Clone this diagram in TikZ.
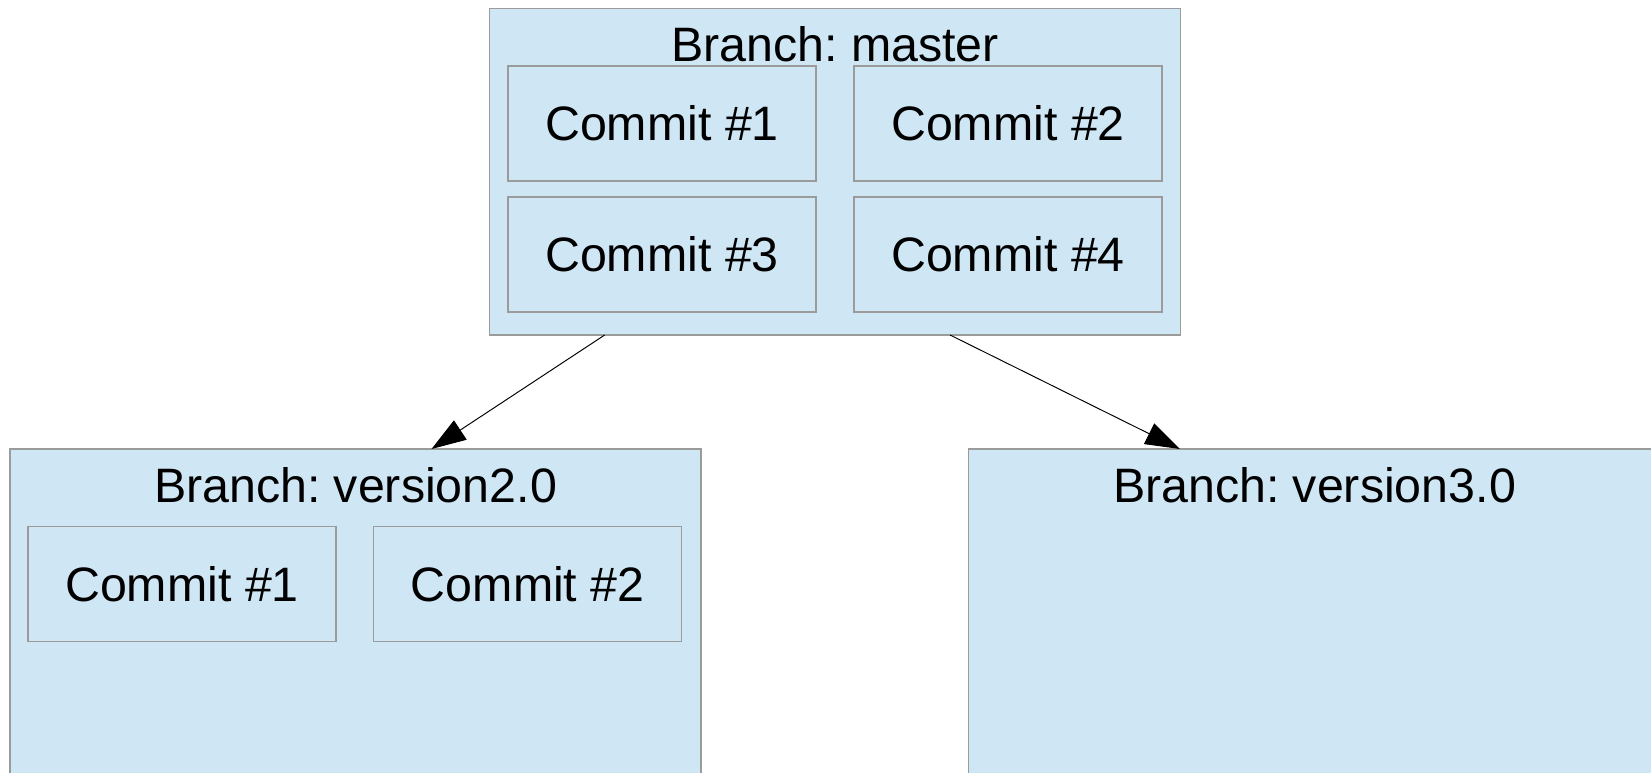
\documentclass[tikz,border=0pt]{standalone}
\usepackage{fontspec}
\setmainfont{Liberation Sans}
\usetikzlibrary{arrows.meta,calc,positioning}
\definecolor{branchblue}{RGB}{207,230,244}
\definecolor{edgegray}{RGB}{155,155,155}
\frenchspacing
\tikzset{
  >={Triangle[length=6.9mm,width=4.6mm]},
  flow/.style={->,draw=black,line width=0.55pt},
  branchbox/.style={
    draw=edgegray,
    fill=branchblue,
    rectangle,
    line width=0.6pt,
    inner sep=0pt,
    outer sep=0pt,
    minimum width=13.82cm,
    anchor=north west
  },
  commitbox/.style={
    draw=edgegray,
    fill=branchblue,
    rectangle,
    line width=0.6pt,
    inner sep=0pt,
    outer sep=0pt,
    minimum width=6.16cm,
    minimum height=2.30cm,
    font=\fontsize{27.5}{32}\selectfont
  },
  title/.style={anchor=base,font=\fontsize{27.5}{32}\selectfont}
}

\begin{document}
\begin{tikzpicture}[x=1cm,y=1cm]
  \useasboundingbox (0,0) rectangle (33.02,15.44);
  \clip (0,0) rectangle (33.02,15.44);
  \fill[white] (0,0) rectangle (33.02,15.44);

  % Branch: master
  \node[branchbox,minimum height=6.53cm] (master) at (9.79,15.27) {};
  \node[title] (mastertitle) at (16.70,14.20) {Branch: master};
  \node[commitbox,anchor=north west] (mone) at (10.16,14.12) {Commit \#1};
  \node[commitbox,anchor=north west] (mtwo) at (17.08,14.12) {Commit \#2};
  \node[commitbox,anchor=north west] (mthree) at (10.16,11.50) {Commit \#3};
  \node[commitbox,anchor=north west] (mfour) at (17.08,11.50) {Commit \#4};

  % Branch: version2.0
  \node[branchbox,minimum height=7.50cm] (vtwo) at (0.20,6.46) {};
  \node[title] (vtwotitle) at (7.11,5.38) {Branch: version2.0};
  \node[commitbox,anchor=north west] (vone) at (0.56,4.906) {Commit \#1};
  \node[commitbox,anchor=north west] (vonetwo) at (7.476,4.906) {Commit \#2};

  % Branch: version3.0
  \node[branchbox,minimum height=7.50cm] (vthree) at (19.376,6.46) {};
  \node[title] (vthreetitle) at (26.29,5.38) {Branch: version3.0};

  % Branch arrows
  \draw[flow] ($(master.south west)!0.1667!(master.south east)$)
    -- ($(vtwo.north west)!0.61!(vtwo.north east)$);
  \draw[flow] ($(master.south west)!0.6665!(master.south east)$)
    -- ($(vthree.north west)!0.3056!(vthree.north east)$);
\end{tikzpicture}
\end{document}
